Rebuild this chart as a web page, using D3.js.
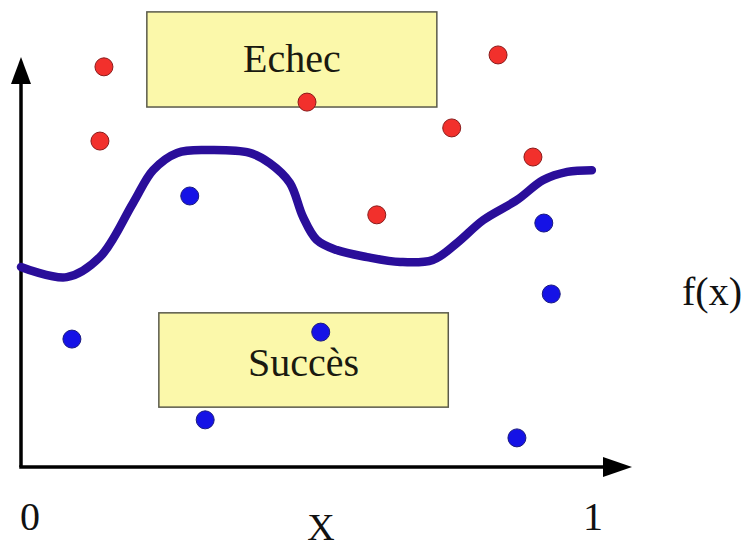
<!DOCTYPE html>
<html><head><meta charset="utf-8">
<script src="https://cdn.jsdelivr.net/npm/d3@7"></script>
<style>body{margin:0;background:#fff}svg{display:block}</style>
</head><body>
<script>
// ---- data (normalized units: x in [0,1], y in [0,1]) ----
const failX = [0.145, 0.138, 0.500, 0.834, 0.753, 0.895, 0.622];
const failY = [0.976, 0.795, 0.890, 1.005, 0.827, 0.756, 0.615];
const succX = [0.295, 0.914, 0.927, 0.089, 0.524, 0.322, 0.867];
const succY = [0.661, 0.595, 0.422, 0.312, 0.329, 0.115, 0.071];
const curveX = [0, 0.080, 0.138, 0.196, 0.231, 0.273, 0.325, 0.400, 0.435, 0.470, 0.493, 0.517, 0.552, 0.605, 0.663, 0.720, 0.762, 0.808, 0.867, 0.913, 0.955, 0.998];
const curveY = [0.488, 0.463, 0.512, 0.644, 0.724, 0.766, 0.773, 0.766, 0.741, 0.693, 0.610, 0.554, 0.529, 0.512, 0.500, 0.505, 0.546, 0.602, 0.651, 0.700, 0.720, 0.724];
const regionLabels = ["Echec", "Succès"];
const regionX0 = [0.220, 0.241];
const regionX1 = [0.727, 0.747];
const regionY0 = [0.878, 0.146];
const regionY1 = [1.110, 0.376];
const tickLabels = ["0", "1"];
const tickValues = [0, 1];
const xLabel = "X";
const curveLabel = "f(x)";

const W = 744, H = 549;
const x = d3.scaleLinear().domain([0, 1]).range([21, 593]);
const y = d3.scaleLinear().domain([0, 1]).range([467, 57]);

const svg = d3.select("body").append("svg").attr("width", W).attr("height", H);
const font = "'Liberation Serif', 'Times New Roman', serif";

// region boxes
regionLabels.forEach((lab, i) => {
  svg.append("rect")
    .attr("x", x(regionX0[i])).attr("y", y(regionY1[i]))
    .attr("width", x(regionX1[i]) - x(regionX0[i]))
    .attr("height", y(regionY0[i]) - y(regionY1[i]))
    .attr("fill", "#fbf8aa").attr("stroke", "#5a5a4a").attr("stroke-width", 1.5);
});
svg.append("text").attr("x", (x(regionX0[0]) + x(regionX1[0])) / 2).attr("y", 72)
  .attr("text-anchor", "middle").attr("font-family", font).attr("font-size", 40)
  .attr("fill", "#1a1a10").text(regionLabels[0]);
svg.append("text").attr("x", (x(regionX0[1]) + x(regionX1[1])) / 2).attr("y", 376)
  .attr("text-anchor", "middle").attr("font-family", font).attr("font-size", 40)
  .attr("fill", "#1a1a10").text(regionLabels[1]);

// axes with arrows
const axisColor = "#000";
svg.append("line").attr("x1", x(0)).attr("y1", y(0)).attr("x2", x(0)).attr("y2", y(1) + 20)
  .attr("stroke", axisColor).attr("stroke-width", 3.5);
svg.append("path").attr("d", `M${x(0)},${y(1)} L${x(0) - 10},${y(1) + 27} L${x(0) + 10},${y(1) + 27} Z`).attr("fill", axisColor);
svg.append("line").attr("x1", x(0) - 1.75).attr("y1", y(0)).attr("x2", 610).attr("y2", y(0))
  .attr("stroke", axisColor).attr("stroke-width", 3.5);
svg.append("path").attr("d", `M632,${y(0)} L603,${y(0) - 10} L603,${y(0) + 10} Z`).attr("fill", axisColor);

// tick labels
tickLabels.forEach((t, i) => {
  svg.append("text").attr("x", x(tickValues[i]) + (i === 0 ? 9 : 0)).attr("y", 530)
    .attr("text-anchor", "middle").attr("font-family", font).attr("font-size", 40)
    .attr("fill", "#111").text(t);
});
svg.append("text").attr("x", 321).attr("y", 540).attr("text-anchor", "middle")
  .attr("font-family", font).attr("font-size", 38).attr("fill", "#111").text(xLabel);
svg.append("text").attr("x", 682).attr("y", 305)
  .attr("font-family", font).attr("font-size", 40).attr("fill", "#111").text(curveLabel);

// curve
const pts = curveX.map((v, i) => [v, curveY[i]]);
const line = d3.line().x(d => x(d[0])).y(d => y(d[1])).curve(d3.curveCatmullRom.alpha(0.5));
svg.append("path").attr("d", line(pts)).attr("fill", "none")
  .attr("stroke", "#2a0e9a").attr("stroke-width", 8.5).attr("stroke-linecap", "round");

// points
svg.selectAll("circle.fail").data(failX.map((v, i) => [v, failY[i]])).join("circle")
  .attr("class", "fail").attr("cx", d => x(d[0])).attr("cy", d => y(d[1])).attr("r", 9)
  .attr("fill", "#f2302c").attr("stroke", "#8a1a1a").attr("stroke-width", 1);
svg.selectAll("circle.succ").data(succX.map((v, i) => [v, succY[i]])).join("circle")
  .attr("class", "succ").attr("cx", d => x(d[0])).attr("cy", d => y(d[1])).attr("r", 9)
  .attr("fill", "#1512e6").attr("stroke", "#1a1a80").attr("stroke-width", 1);
</script>
</body></html>
